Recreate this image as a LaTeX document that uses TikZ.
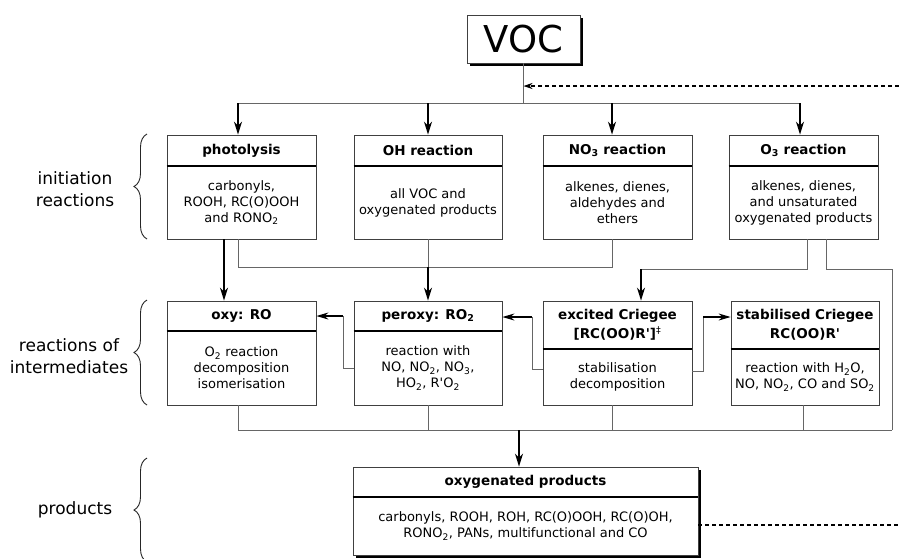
\documentclass[tikz,border=0pt]{standalone}
\usepackage{fontspec}
\setmainfont{DejaVu Sans}
\usetikzlibrary{arrows.meta,shadows,decorations.pathreplacing}
\definecolor{boxgray}{gray}{0.25}
\definecolor{linkgray}{gray}{0.4}
\newcommand{\qs}{\textquotesingle}
\tikzset{
	hd/.style={draw=boxgray, line width=0.8pt, fill=white, minimum width=149pt, inner sep=0pt, align=center, font=\fontsize{13.5}{19}\selectfont\bfseries},
	bd/.style={draw=boxgray, line width=0.8pt, fill=white, minimum width=149pt, inner sep=0pt, align=center, font=\fontsize{13}{16}\selectfont},
	sep/.style={line width=2pt},
	link/.style={draw=linkgray, line width=0.8pt},
	flow/.style={line width=1.6pt, -{Stealth[length=13pt,width=8pt]}},
	push/.style={line width=1.3pt, -{Stealth[length=12pt,width=7pt]}},
	feedback/.style={line width=1.2pt, dash pattern=on 4pt off 3pt},
	side/.style={align=center, font=\fontsize{17}{22}\selectfont},
	brc/.style={decorate, decoration={brace, amplitude=13pt}, draw=black!85, line width=0.9pt},
	shade/.style={general shadow={fill=black, shadow xshift=3pt, shadow yshift=-3pt}}
}
\begin{document}
\begin{tikzpicture}[x=1pt, y=-1pt]
	\useasboundingbox[fill=white] (0,0) rectangle (899,558);
	% VOC
	\node[draw=boxgray, line width=0.8pt, fill=white, shade, minimum width=113pt, minimum height=48pt, inner sep=0pt, font=\fontsize{37}{40}\selectfont] (voc) at (523.5,39) {VOC};

	% initiation reactions
	\node[hd, minimum height=31pt] (photh) at (241.5,150.5) {photolysis};
	\node[bd, minimum height=73pt] (photb) at (241.5,202.5) {carbonyls,\\ROOH, RC(O)OOH\\and RONO\textsubscript{2}};
	\node[hd, minimum height=31pt, minimum width=148pt] (ohh) at (428,150.5) {OH reaction};
	\node[bd, minimum height=73pt, minimum width=148pt] (ohb) at (428,202.5) {all VOC and\\oxygenated products};
	\node[hd, minimum height=31pt] (noh) at (617.5,150.5) {NO\textsubscript{3} reaction};
	\node[bd, minimum height=73pt] (nob) at (617.5,202.5) {alkenes, dienes,\\aldehydes and\\ethers};
	\node[hd, minimum height=31pt] (ozh) at (803.5,150.5) {O\textsubscript{3} reaction};
	\node[bd, minimum height=73pt] (ozb) at (803.5,202.5) {alkenes, dienes,\\and unsaturated\\oxygenated products};

	% intermediates
	\node[hd, minimum height=30pt] (oxyh) at (241.5,316) {oxy: RO};
	\node[bd, minimum height=74pt] (oxyb) at (241.5,368) {O\textsubscript{2} reaction\\decomposition\\isomerisation};
	\node[hd, minimum height=30pt, minimum width=148pt] (perh) at (428,316) {peroxy: RO\textsubscript{2}};
	\node[bd, minimum height=74pt, minimum width=148pt] (perb) at (428,368) {reaction with\\NO, NO\textsubscript{2}, NO\textsubscript{3},\\HO\textsubscript{2}, R\qs O\textsubscript{2}};
	\node[hd, minimum height=48pt] (exh) at (617.5,325) {excited Criegee\\{}[RC(OO)R\qs]\textsuperscript{\normalfont ‡}};
	\node[bd, minimum height=56pt] (exb) at (617.5,377) {stabilisation\\decomposition};
	\node[hd, minimum height=48pt, minimum width=148pt] (sth) at (805,325) {stabilised Criegee\\RC(OO)R\qs};
	\node[bd, minimum height=56pt, minimum width=148pt] (stb) at (805,377) {reaction with H\textsubscript{2}O,\\NO, NO\textsubscript{2}, CO and SO\textsubscript{2}};

	% products
	\node[hd, shade, minimum height=30pt, minimum width=345pt] (prh) at (525.5,482) {oxygenated products};
	\node[bd, shade, minimum height=58pt, minimum width=345pt] (prb) at (525.5,526) {carbonyls, ROOH, ROH, RC(O)OOH, RC(O)OH,\\RONO\textsubscript{2}, PANs, multifunctional and CO};

	\foreach \n in {photh,ohh,noh,ozh,oxyh,perh,exh,sth,prh}
		\draw[sep] (\n.south west) -- (\n.south east);

	% VOC to initiation
	\coordinate (a1) at (238,103);
	\coordinate (a2) at (428,103);
	\coordinate (a3) at (612,103);
	\coordinate (a4) at (800,103);
	\draw[link] (a1) -- (a4);
	\draw[link] (voc) -- (voc |- a1);
	\foreach \c/\n in {a1/photh,a2/ohh,a3/noh,a4/ozh}
		\draw[flow] (\c) -- (\c |- \n.north);
	\coordinate (back) at (899,86);
	\draw[feedback, -{Stealth[length=9pt,width=6pt]}] (back) -- (back -| voc);

	% initiation to intermediates
	\coordinate (b1) at (224,0);
	\draw[flow] (photb.south -| b1) -- (oxyh.north -| b1);
	\coordinate (c1) at (238,267);
	\coordinate (c3) at (612,267);
	\draw[link] (photb.south -| c1) -- (c1) -- (c3) -- (nob.south -| c3);
	\draw[link] (ohb.south) -- (ohb.south |- c1);
	\draw[flow] (ohb.south |- c1) -- (perh.north);
	\coordinate (d1) at (807,269);
	\coordinate (d2) at (641,269);
	\draw[link] (ozb.south -| d1) -- (d1) -- (d2);
	\draw[flow] (d2) -- (exh.north -| d2);
	\coordinate (e1) at (826,269);
	\coordinate (e2) at (892,269);
	\coordinate (e3) at (892,430);
	\draw[link] (ozb.south -| e1) -- (e1) -- (e2) -- (e3);

	% between intermediates
	\coordinate (h1) at (343,316);
	\draw[link] (perb.west) -- (perb.west -| h1) -- (h1);
	\draw[push] (h1) -- (h1 -| oxyh.east);
	\coordinate (h2) at (532,369);
	\coordinate (h3) at (532,317);
	\draw[link] (h2 -| exb.west) -- (h2) -- (h3);
	\draw[push] (h3) -- (h3 -| perh.east);
	\coordinate (h4) at (703,371);
	\coordinate (h5) at (703,317);
	\draw[link] (h4 -| exb.east) -- (h4) -- (h5);
	\draw[push] (h5) -- (h5 -| sth.west);

	% intermediates to products
	\coordinate (f1) at (238,430);
	\draw[link] (oxyb.south -| f1) -- (f1) -- (e3);
	\coordinate (g1) at (612,430);
	\coordinate (g2) at (803,430);
	\draw[link] (perb.south) -- (perb.south |- f1);
	\draw[link] (exb.south -| g1) -- (g1);
	\draw[link] (stb.south -| g2) -- (g2);
	\coordinate (f2) at (519,430);
	\draw[flow] (f2) -- (prh.north -| f2);
	\coordinate (out) at (899,525);
	\draw[feedback] (prb.east |- out) -- (out);

	% stages
	\draw[brc] (147,239) -- (147,134);
	\draw[brc] (147,405) -- (147,300);
	\draw[brc] (147,562) -- (147,458);
	\node[side] (lab1) at (75,189) {initiation\\reactions};
	\node[side] (lab2) at (69,356) {reactions of\\intermediates};
	\node[side] (lab3) at (75,510) {products};
\end{tikzpicture}
\end{document}
